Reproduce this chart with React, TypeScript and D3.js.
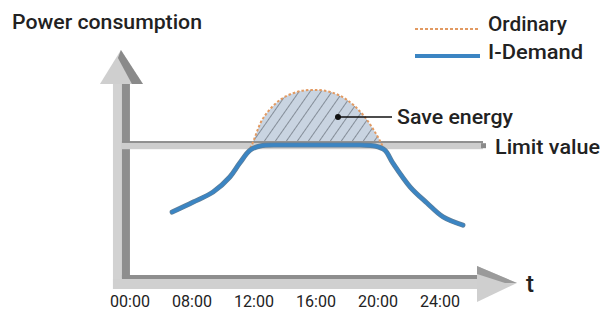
import React from "react";
import * as d3 from "d3";

// tick labels (evenly spaced on the picture, not proportional to hours)
const slotLabels = ["00:00", "08:00", "12:00", "16:00", "20:00", "24:00"];

// ordinary consumption (slot position, power)
const ordinarySlots = [0.68, 1.02, 1.34, 1.61, 1.77, 1.94, 2.15, 2.42, 2.69, 2.95, 3.23, 3.5, 3.76, 3.98, 4.11, 4.24, 4.52, 4.79, 5.05, 5.37];
const ordinaryPower = [28.9, 33.3, 37.7, 44.3, 50.4, 57.0, 70.2, 78.1, 81.6, 82.5, 81.6, 78.1, 71.5, 62.7, 56.1, 50.4, 39.9, 32.9, 26.8, 23.2];

// i-demand consumption, capped under the limit
const demandSlots = [0.68, 1.02, 1.34, 1.61, 1.77, 1.94, 2.1, 2.42, 3.06, 3.71, 3.95, 4.11, 4.24, 4.52, 4.79, 5.05, 5.37];
const demandPower = [28.9, 33.3, 37.7, 44.3, 50.4, 56.1, 57.9, 58.3, 58.3, 58.3, 57.9, 56.1, 50.4, 39.9, 32.9, 26.8, 23.2];

const limitValue = 60;

const W = 603;
const H = 312;
const BLUE = "#3b85c3";
const ORANGE = "#e29a62";
const FONT = "Roboto, 'DejaVu Sans', sans-serif";

export default function App() {
  const x = d3.scaleLinear().domain([0, 5]).range([130, 440]);
  const y = d3.scaleLinear().domain([0, 100]).range([278, 50]);

  const ordinary = ordinarySlots.map((s, i) => [s, ordinaryPower[i]] as [number, number]);
  const demand = demandSlots.map((s, i) => [s, demandPower[i]] as [number, number]);

  const line = d3.line<[number, number]>()
    .x(d => x(d[0]))
    .y(d => y(d[1]))
    .curve(d3.curveCatmullRom.alpha(0.5));

  const area = d3.area<[number, number]>()
    .x(d => x(d[0]))
    .y0(y(limitValue))
    .y1(d => y(d[1]))
    .curve(d3.curveCatmullRom.alpha(0.5));

  const axisX = x(-0.13); // y axis position
  const axisY = y(0);     // x axis position
  const limitY = y(limitValue);

  return (
    <svg width={W} height={H} style={{ position: "absolute", left: 0, top: 0, background: "#fff" }}>
      <defs>
        <pattern id="hatch" width="9" height="9" patternUnits="userSpaceOnUse" patternTransform="rotate(35)">
          <rect width="9" height="9" fill="#c9d4e1" />
          <line x1="0" y1="0" x2="0" y2="9" stroke="#5f6670" strokeWidth="1.3" />
        </pattern>
        <clipPath id="above">
          <rect x={0} y={0} width={W} height={limitY} />
        </clipPath>
      </defs>

      {/* title */}
      <text x={12} y={29} fontFamily={FONT} fontWeight={500} fontSize={20} fill="#222"
        textLength={190} lengthAdjust="spacingAndGlyphs">Power consumption</text>

      {/* legend */}
      <line x1={415} x2={480} y1={29} y2={29} stroke={ORANGE} strokeWidth={1.8} strokeDasharray="3,2" />
      <text x={488} y={31} fontFamily={FONT} fontWeight={500} fontSize={20} fill="#222"
        textLength={79} lengthAdjust="spacingAndGlyphs">Ordinary</text>
      <line x1={415} x2={480} y1={56} y2={56} stroke={BLUE} strokeWidth={4} />
      <text x={488} y={59} fontFamily={FONT} fontWeight={500} fontSize={20} fill="#222"
        textLength={95} lengthAdjust="spacingAndGlyphs">I-Demand</text>

      {/* y axis */}
      <rect x={axisX - 9} y={82} width={9} height={axisY - 82 + 11} fill="#d2d2d2" />
      <rect x={axisX} y={82} width={8} height={axisY - 82} fill="#8e8e8e" />
      <polygon points={`${axisX - 1},50 ${axisX - 22},84 ${axisX + 21},84`} fill="#cfcfcf" />
      <polygon points={`${axisX - 1},50 ${axisX + 21},84 ${axisX + 10},84 ${axisX - 4},58`} fill="#8a8a8a" />

      {/* x axis */}
      <rect x={axisX} y={axisY - 3} width={478 - axisX} height={4} fill="#8e8e8e" />
      <rect x={axisX - 9} y={axisY + 1} width={478 - axisX + 9} height={10} fill="#d0d0d0" />
      <polygon points={`477,${axisY - 12} 517,${axisY + 5} 477,${axisY + 24}`} fill="#cfcfcf" />
      <polygon points={`477,${axisY - 12} 517,${axisY + 5} 505,${axisY + 5} 477,${axisY - 4}`} fill="#9a9a9a" />
      <text x={526} y={292} fontFamily={FONT} fontWeight={500} fontSize={24} fill="#222">t</text>

      {slotLabels.map((l, i) => (
        <text key={l} x={x(i)} y={307} textAnchor="middle" fontFamily={FONT} fontSize={16} fill="#222"
          textLength={40} lengthAdjust="spacingAndGlyphs">{l}</text>
      ))}

      {/* saved energy region */}
      <path d={area(ordinary) || ""} fill="url(#hatch)" clipPath="url(#above)" />

      {/* limit bar */}
      <rect x={axisX} y={limitY} width={483 - axisX} height={8} fill="#cdcdcd" />
      <line x1={axisX} x2={483} y1={limitY + 0.7} y2={limitY + 0.7} stroke="#7a7a7a" strokeWidth={1.5} />
      <rect x={481} y={limitY + 2} width={5} height={5} fill="#8a8a8a" />
      <text x={495} y={154} fontFamily={FONT} fontWeight={500} fontSize={20} fill="#222"
        textLength={105} lengthAdjust="spacingAndGlyphs">Limit value</text>

      {/* curves */}
      <path d={line(ordinary) || ""} fill="none" stroke={ORANGE} strokeWidth={2} strokeDasharray="2.5,2" />
      <path d={line(demand) || ""} fill="none" stroke="#5f7f99" strokeWidth={5} strokeLinecap="round" />
      <path d={line(demand) || ""} fill="none" stroke={BLUE} strokeWidth={3.5} strokeLinecap="round" />

      {/* annotation */}
      <circle cx={338} cy={117} r={3} fill="#111" />
      <line x1={338} x2={392} y1={117} y2={117} stroke="#111" strokeWidth={1.5} />
      <text x={397} y={124} fontFamily={FONT} fontWeight={500} fontSize={20} fill="#222"
        textLength={116} lengthAdjust="spacingAndGlyphs">Save energy</text>
    </svg>
  );
}
